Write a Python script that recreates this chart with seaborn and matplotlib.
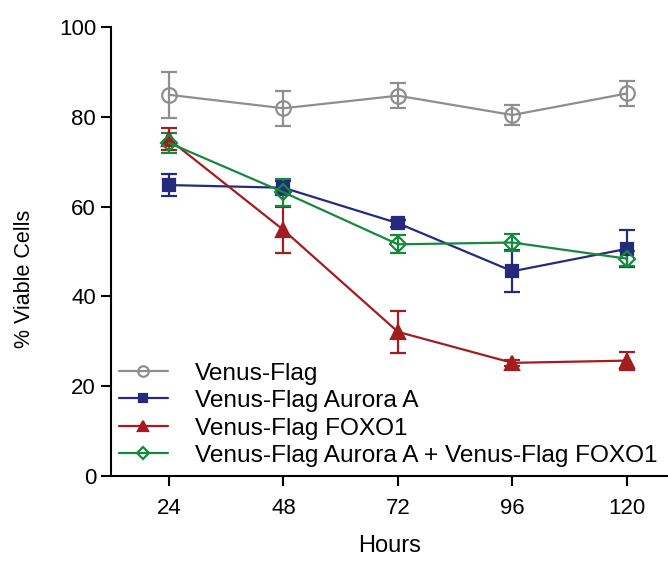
import matplotlib
matplotlib.use("Agg")
import matplotlib.pyplot as plt
import seaborn as sns
import pandas as pd
import numpy as np

hours = [24, 48, 72, 96, 120]
series_names = ["Venus-Flag", "Venus-Flag Aurora A", "Venus-Flag FOXO1",
                "Venus-Flag Aurora A + Venus-Flag FOXO1"]
venus_flag = [84.9, 81.9, 84.7, 80.4, 85.2]
venus_flag_err = [5.1, 3.9, 2.8, 2.2, 2.7]
aurora_a = [64.8, 64.2, 56.3, 45.6, 50.6]
aurora_a_err = [2.4, 1.6, 0.8, 4.7, 4.1]
foxo1 = [75.0, 54.8, 32.1, 25.2, 25.7]
foxo1_err = [2.4, 5.2, 4.7, 0.6, 2.0]
combo = [74.2, 63.2, 51.6, 52.0, 48.4]
combo_err = [2.3, 3.0, 2.0, 1.9, 1.7]
y_ticks = [0, 20, 40, 60, 80, 100]

colors = ["#8e8e8e", "#252a7e", "#a31c20", "#168a3c"]
markers = ["o", "s", "^", "D"]
fills = ["none", "full", "full", "none"]
msizes = [10.5, 8.5, 9.5, 8.5]

values = [venus_flag, aurora_a, foxo1, combo]
errors = [venus_flag_err, aurora_a_err, foxo1_err, combo_err]

rows = []
for name, v, e in zip(series_names, values, errors):
    for h, y, er in zip(hours, v, e):
        rows.append({"Hours": h, "val": y, "err": er, "series": name})
df = pd.DataFrame(rows)

sns.set_style("ticks")
plt.rcParams["font.family"] = ["Liberation Sans", "DejaVu Sans"]
plt.rcParams["text.color"] = "black"
plt.rcParams["axes.labelcolor"] = "black"

fig = plt.figure(figsize=(6.68, 5.61), dpi=100)
ax = fig.add_axes([110.7 / 668, 85 / 561, 1 - 110.7 / 668, 449 / 561])

for i, name in enumerate(series_names):
    sub = df[df["series"] == name]
    ax.errorbar(sub["Hours"], sub["val"], yerr=sub["err"], fmt="none",
                ecolor=colors[i], elinewidth=1.6, capsize=5.5, capthick=1.6,
                zorder=2)
    sns.lineplot(data=sub, x="Hours", y="val", ax=ax, color=colors[i],
                 marker=markers[i], markersize=msizes[i],
                 markerfacecolor=("none" if fills[i] == "none" else colors[i]),
                 markeredgecolor=colors[i], markeredgewidth=1.6,
                 linewidth=1.6, label=name, zorder=3, errorbar=None)

ax.set_xlim(11.8, 128.6)
ax.set_ylim(0, 100)
ax.set_xticks(hours)
ax.set_xticklabels([str(h) for h in hours])
ax.set_yticks(y_ticks)
ax.set_yticklabels([str(t) for t in y_ticks])
ax.tick_params(axis="both", direction="out", length=7.5, width=1.5,
               labelsize=16, colors="black")
ax.tick_params(axis="x", pad=8)
ax.tick_params(axis="y", pad=3)
for s in ["left", "bottom"]:
    ax.spines[s].set_linewidth(1.5)
    ax.spines[s].set_color("black")
sns.despine(ax=ax)

ax.set_xlabel("Hours", fontsize=17, labelpad=12)
ax.set_ylabel("% Viable Cells", fontsize=15.5)
ax.yaxis.set_label_coords(-0.135, 0.44)

leg = ax.legend(loc="lower left", bbox_to_anchor=(119 / 668, 94 / 561),
                bbox_transform=fig.transFigure, frameon=False, fontsize=17.6,
                handlelength=2.0, handletextpad=1.12, labelspacing=0.22,
                borderpad=0, borderaxespad=0, markerscale=0.72)

fig.savefig("out.png", dpi=100)
